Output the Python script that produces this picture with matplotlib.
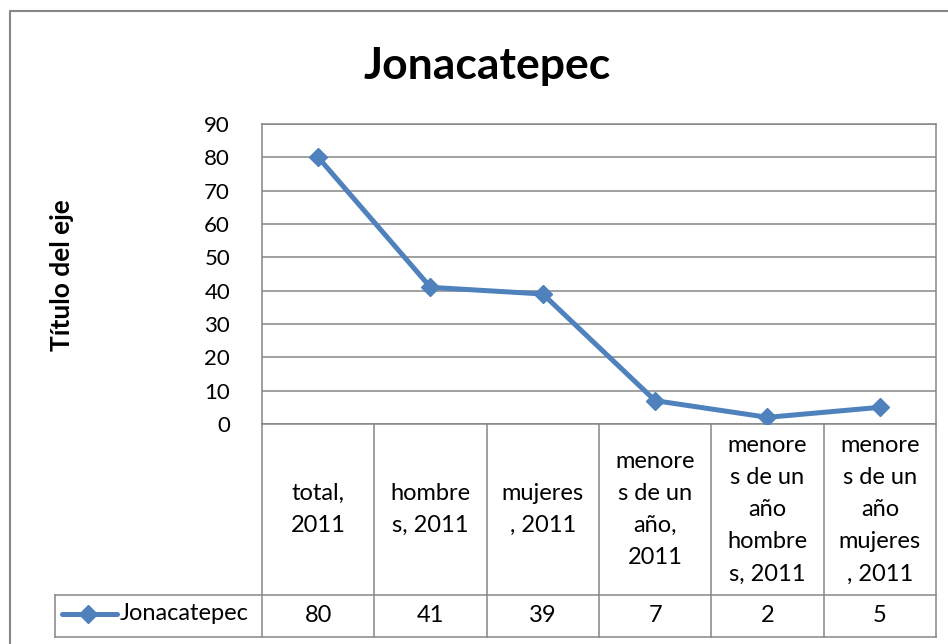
import matplotlib.pyplot as plt
from matplotlib.transforms import blended_transform_factory
from matplotlib.lines import Line2D

plt.rcParams['font.family'] = ['Lato', 'DejaVu Sans']

# datos de Jonacatepec
serie = "Jonacatepec"
categorias = ["total,\n2011", "hombre\ns, 2011", "mujeres\n, 2011",
              "menore\ns de un\naño,\n2011", "menore\ns de un\naño\nhombre\ns, 2011",
              "menore\ns de un\naño\nmujeres\n, 2011"]
valores = [80, 41, 39, 7, 2, 5]
yticks = [0, 10, 20, 30, 40, 50, 60, 70, 80, 90]

azul = "#4F81BD"
gris = "#868686"
W, H = 948, 644

fig = plt.figure(figsize=(W / 100, H / 100), dpi=100)

# marco exterior del grafico
frame = fig.add_axes([0, 0, 1, 1])
frame.set_xlim(0, W)
frame.set_ylim(H, 0)
frame.axis("off")
frame.plot([10, 10, W + 5], [H + 5, 11, 11], color=gris, lw=1.5)

# area de trazado
x0, x1, ytop, ybot = 262, 936, 124, 424
ax = fig.add_axes([x0 / W, 1 - ybot / H, (x1 - x0) / W, (ybot - ytop) / H])
n = len(valores)
xs = list(range(n))
ax.set_xlim(-0.5, n - 0.5)
ax.set_ylim(yticks[0], yticks[-1])
ax.set_yticks(yticks)
ax.set_xticks([])
ax.tick_params(axis="y", length=0, pad=23, labelsize=16)
ax.yaxis.grid(True, color=gris, lw=1.1)
ax.set_axisbelow(True)
for s in ax.spines.values():
    s.set_color(gris)
    s.set_linewidth(1.1)

ax.plot(xs, valores, color=azul, lw=3.6, marker="D", ms=9.5, mfc=azul, mec=azul, zorder=3)

fig.text(487 / W, 1 - 66 / H, serie, ha="center", va="center", fontsize=32, fontweight="bold")
fig.text(62 / W, 1 - 275 / H, "Título del eje", ha="center", va="center",
         rotation=90, fontsize=19, fontweight="bold")

# tabla de datos bajo el eje
tr = blended_transform_factory(ax.transData, ax.transAxes)
px = (ybot - ytop)
y_cat = -(595 - ybot) / px
y_dat = -(637 - ybot) / px
leg_left = ax.transData.inverted().transform(fig.transFigure.transform((55 / W, 0)))[0]

def linea(xx, yy):
    ax.add_line(Line2D(xx, yy, transform=tr, color=gris, lw=1.1, clip_on=False))

for i in range(n + 1):
    linea([i - 0.5, i - 0.5], [0, y_dat])
linea([leg_left, leg_left], [y_cat, y_dat])
linea([leg_left, n - 0.5], [y_cat, y_cat])
linea([leg_left, n - 0.5], [y_dat, y_dat])

for x, cat, v in zip(xs, categorias, valores):
    ax.text(x, y_cat / 2, cat, transform=tr, ha="center", va="center",
            fontsize=17, linespacing=1.66)
    ax.text(x, (y_cat + y_dat) / 2, str(v), transform=tr, ha="center", va="center",
            fontsize=17)

# clave de la leyenda dentro de la tabla
ym = 614
frame.plot([62, 117], [ym, ym], color=azul, lw=3.6, solid_capstyle="round")
frame.plot([88.5], [ym], marker="D", ms=9.5, color=azul)
frame.text(120, ym, serie, ha="left", va="center", fontsize=17)

fig.savefig("out.png", dpi=100)
